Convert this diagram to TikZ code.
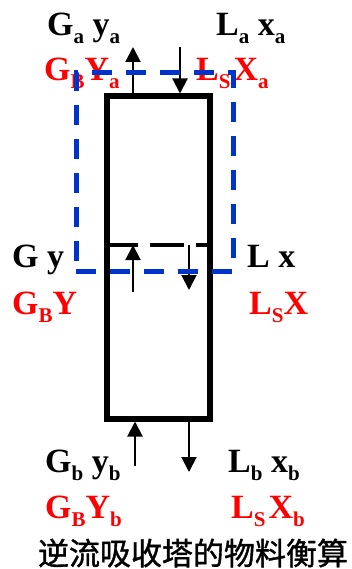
\documentclass[tikz,border=0pt]{standalone}
\usepackage{fontspec}
\setmainfont{Liberation Serif}
\newfontfamily\cjk[AutoFakeBold=1.2]{Noto Sans CJK SC}
\usetikzlibrary{arrows.meta}
\definecolor{cvblue}{RGB}{0,51,204}
\definecolor{solred}{RGB}{255,0,0}
\newcommand{\dn}[1]{\raisebox{-8pt}{\fontsize{21}{21}\selectfont #1}}
\tikzset{
  tower/.style={
    draw=black,
    line width=6pt,
    minimum width=103pt,
    minimum height=322pt,
    inner sep=0pt
  },
  tray/.style={draw=black, line width=4pt, dash pattern=on 34pt off 12pt},
  envelope/.style={
    draw=cvblue,
    line width=5pt,
    dash pattern=on 20pt off 14pt,
    minimum width=157pt,
    minimum height=198pt,
    inner sep=0pt
  },
  flow/.style={-{Triangle[width=15pt,length=15pt]}, line width=2pt},
  lab/.style={anchor=base west, inner sep=0pt, font=\fontsize{34}{37}\selectfont\bfseries},
  redlab/.style={lab, text=solred}
}

\begin{document}
\begin{tikzpicture}[x=1pt, y=-1pt]
        \useasboundingbox (0,0) rectangle (352,569);
        \node[tower] (col) at (158,257.5) {};
        \coordinate (tray) at (0,245);
        \draw[tray] (col.west |- tray) -- (col.east |- tray);
        \coordinate (gout) at (133,47);
        \coordinate (lin) at (180,47);
        \coordinate (gup) at (133,292);
        \coordinate (ldown) at (189,290);
        \coordinate (gin) at (135,466);
        \coordinate (lout) at (189,472);
        \draw[flow] (col.north -| gout) -- (gout);
        \draw[flow] (lin) -- (col.north -| lin);
        \draw[flow] (gup) -- (tray -| gup);
        \draw[flow] (tray -| ldown) -- (ldown);
        \draw[flow] (gin) -- (col.south -| gin);
        \draw[flow] (col.south -| lout) -- (lout);
        \node[lab] (ga) at (47,36) {G\dn{a} y\dn{a}};
        \node[lab] (la) at (216,36) {L\dn{a} x\dn{a}};
        \node[redlab] (gsa) at (44,81) {G\dn{B}Y\dn{a}};
        \node[redlab] (lsa) at (196,81) {L\dn{S}\kern3pt X\dn{a}};
        \node[lab] (gm) at (12,267) {G y};
        \node[lab] (lm) at (247,267) {L x};
        \node[redlab] (gsm) at (12,314) {G\dn{B}Y};
        \node[redlab] (lsm) at (249,314) {L\dn{S}X};
        \node[lab] (gb) at (45,472) {G\dn{b} y\dn{b}};
        \node[lab] (lb) at (228,472) {L\dn{b} x\dn{b}};
        \node[redlab] (gsb) at (45,518) {G\dn{B}Y\dn{b}};
        \node[redlab] (lsb) at (231,518) {L\dn{S}\kern3pt X\dn{b}};
        \node[envelope] (cv) at (154.5,172) {};
        \node[font=\cjk\bfseries\fontsize{31}{34}\selectfont, inner sep=0pt] (cap) at (193,553) {逆流吸收塔的物料衡算};
      \end{tikzpicture}
\end{document}
